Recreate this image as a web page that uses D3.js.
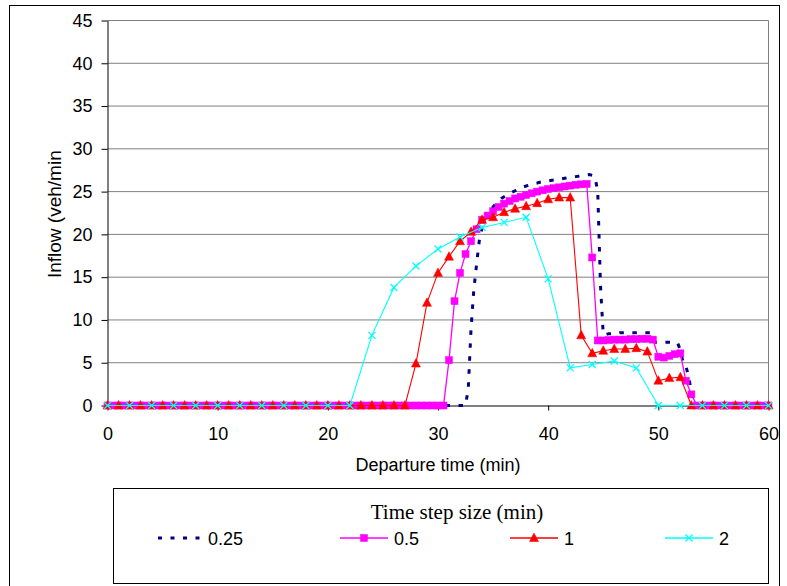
<!DOCTYPE html>
<html><head><meta charset="utf-8">
<script src="https://cdn.jsdelivr.net/npm/d3@7"></script>
<style>body{margin:0;background:#fff}svg{display:block}</style>
</head><body><svg id="c" width="787" height="586"></svg>
<script>
// ---- data ----
const xTicks = [0, 10, 20, 30, 40, 50, 60];
const yTicks = [0, 5, 10, 15, 20, 25, 30, 35, 40, 45];
const seriesNames = ["0.25", "0.5", "1", "2"];
const stepSizes = [0.25, 0.5, 1, 2];
// 0.25-min step (t = 0, 0.25, ..., 60)
const inflow025 = [
 0,0,0,0,0,0,0,0,0,0, 0,0,0,0,0,0,0,0,0,0, 0,0,0,0,0,0,0,0,0,0,
 0,0,0,0,0,0,0,0,0,0, 0,0,0,0,0,0,0,0,0,0, 0,0,0,0,0,0,0,0,0,0,
 0,0,0,0,0,0,0,0,0,0, 0,0,0,0,0,0,0,0,0,0, 0,0,0,0,0,0,0,0,0,0,
 0,0,0,0,0,0,0,0,0,0, 0,0,0,0,0,0,0,0,0,0, 0,0,0,0,0,0,0,0,0,0,
 0,0,0,0,0,0,0,0,0,0, 0,
 2.0, 9.0, 13.5, 16.5, 19.3, 20.8, 21.7, 22.3, 22.8,
 23.2, 23.6, 23.9, 24.2, 24.4, 24.6, 24.8, 24.95,
 25.1, 25.3, 25.45, 25.55, 25.65, 25.75, 25.85, 25.95,
 26.0, 26.1, 26.15, 26.2, 26.25, 26.3, 26.35, 26.4,
 26.45, 26.5, 26.55, 26.6, 26.65, 26.7, 26.75, 26.8,
 26.85, 26.9, 26.95, 27.0, 26.9, 26.7, 25.0, 14.0,
 8.3, 8.3, 8.4, 8.4, 8.4, 8.4, 8.5, 8.5, 8.5, 8.5, 8.5, 8.5, 8.5, 8.5, 8.5, 8.5,
 8.5, 8.5, 7.6, 7.4, 7.4, 7.4, 7.4, 7.4, 7.4, 7.4, 7.4, 7.3,
 6.5, 5.0, 4.6, 3.4, 1.6, 0, 0, 0,
 0,0,0,0,0,0,0,0,0,0,0,0,0,0,0,0,0,0,0,0,0,0,0,0,0
];
// 0.5-min step (t = 0, 0.5, ..., 60)
const inflow05 = [
 0,0,0,0,0,0,0,0,0,0, 0,0,0,0,0,0,0,0,0,0, 0,0,0,0,0,0,0,0,0,0,
 0,0,0,0,0,0,0,0,0,0, 0,0,0,0,0,0,0,0,0,0, 0,0,0,0,0,0,0,0,0,0, 0,0,
 5.3, 12.2, 15.5, 17.7, 19.2, 20.6, 21.7, 22.2, 22.7, 23.2,
 23.6, 23.9, 24.2, 24.4, 24.6, 24.8, 25.0, 25.15, 25.3, 25.4,
 25.5, 25.6, 25.7, 25.8, 25.85, 25.9, 17.3, 7.6, 7.6, 7.65,
 7.7, 7.7, 7.7, 7.75, 7.75, 7.8, 7.8, 7.7, 5.7, 5.6,
 5.8, 6.0, 6.1, 2.9, 1.3,
 0,0,0,0,0,0,0,0,0,0,0,0,0,0
];
// 1-min step (t = 0, 1, ..., 60)
const inflow1 = [
 0,0,0,0,0,0,0,0,0,0, 0,0,0,0,0,0,0,0,0,0, 0,0,0,0,0,0,0,0,
 4.9, 12.0, 15.5, 17.4, 19.2, 20.3, 21.7, 22.0, 22.6, 23.0,
 23.3, 23.65, 24.1, 24.3, 24.3, 8.2, 6.1, 6.4, 6.6, 6.6,
 6.7, 6.3, 2.9, 3.2, 3.3,
 0,0,0,0,0,0,0,0
];
// 2-min step (t = 0, 2, ..., 60)
const inflow2 = [
 0,0,0,0,0,0,0,0,0,0,0,0,
 8.2, 13.8, 16.3, 18.3, 19.7, 20.8, 21.4, 22.0, 14.8, 4.4,
 4.8, 5.2, 4.4, 0,
 0,0,0,0,0
];
const allValues = [inflow025, inflow05, inflow1, inflow2];

// ---- chart ----
const svg = d3.select("#c");
const FONT = "Liberation Sans, Arial, sans-serif";
const x = d3.scaleLinear().domain([0, 60]).range([107.5, 768.5]);
const y = d3.scaleLinear().domain([0, 45]).range([405.5, 20.5]);

svg.append("rect").attr("width", 787).attr("height", 586).attr("fill", "#fff");
// outer frame
svg.append("rect").attr("x", 9.5).attr("y", 5.5).attr("width", 770).attr("height", 700)
  .attr("fill", "none").attr("stroke", "#000").attr("stroke-width", 1);

// gridlines
svg.append("g").selectAll("line").data(yTicks.filter(d => d > 0)).join("line")
  .attr("x1", x(0)).attr("x2", x(60)).attr("y1", d => y(d)).attr("y2", d => y(d))
  .attr("stroke", "#808080").attr("stroke-width", 1);
svg.append("line").attr("x1", x(60)).attr("x2", x(60)).attr("y1", y(45)).attr("y2", y(0))
  .attr("stroke", "#808080");

// axes
const yAxis = svg.append("g").attr("transform", `translate(${x(0)},0)`)
  .call(d3.axisLeft(y).tickValues(yTicks).tickSize(6).tickPadding(9).tickSizeOuter(0));
const xAxis = svg.append("g").attr("transform", `translate(0,${y(0)})`)
  .call(d3.axisBottom(x).tickValues(xTicks).tickSize(5).tickPadding(17).tickSizeOuter(0));
[yAxis, xAxis].forEach(a => {
  a.select(".domain").attr("stroke", "#000");
  a.selectAll(".tick line").attr("stroke", "#000");
  a.selectAll("text").attr("font-family", FONT).attr("font-size", 18).attr("fill", "#000");
});

// axis titles
svg.append("text").attr("x", x(30)).attr("y", 471).attr("text-anchor", "middle")
  .attr("font-family", FONT).attr("font-size", 18).text("Departure time (min)");
svg.append("clipPath").attr("id", "yclip").append("rect")
  .attr("x", 0).attr("y", 150).attr("width", 100).attr("height", 300);
svg.append("g").attr("clip-path", "url(#yclip)").append("text")
  .attr("transform", `translate(61,211) rotate(-90)`)
  .attr("text-anchor", "middle").attr("font-family", FONT).attr("font-size", 19)
  .text("Inflow (veh/min)");

// series
const colors = ["#000080", "#FF00FF", "#FF0000", "#00FFFF"];
const line = d3.line().x(d => x(d[0])).y(d => y(d[1]));
const pts = allValues.map((vals, k) => vals.map((v, i) => [i * stepSizes[k], v]));

function marker(g, k, cx, cy) {
  if (k === 1) {
    g.append("rect").attr("x", cx - 3.5).attr("y", cy - 3.5).attr("width", 7).attr("height", 7)
      .attr("fill", colors[1]).attr("stroke", colors[1]).attr("stroke-width", 0.5);
  } else if (k === 2) {
    g.append("path").attr("d", `M${cx},${cy - 5}L${cx + 4.5},${cy + 3.5}L${cx - 4.5},${cy + 3.5}Z`)
      .attr("fill", colors[2]).attr("stroke", colors[2]).attr("stroke-width", 0.5);
  } else if (k === 3) {
    g.append("path").attr("d", `M${cx - 3.5},${cy - 3.5}L${cx + 3.5},${cy + 3.5}M${cx - 3.5},${cy + 3.5}L${cx + 3.5},${cy - 3.5}`)
      .attr("stroke", colors[3]).attr("stroke-width", 1.3).attr("fill", "none");
  }
}

pts.forEach((p, k) => {
  const g = svg.append("g");
  const path = g.append("path").attr("d", line(p)).attr("fill", "none").attr("stroke", colors[k]);
  if (k === 0) path.attr("stroke-width", 3).attr("stroke-dasharray", "4.5,8.5");
  else path.attr("stroke-width", k === 1 ? 1.3 : 1.1);
  if (k > 0) p.forEach(d => marker(g, k, x(d[0]), y(d[1])));
});

// legend
svg.append("rect").attr("x", 113.5).attr("y", 488.5).attr("width", 655).attr("height", 95)
  .attr("fill", "#fff").attr("stroke", "#000");
svg.append("text").attr("x", 457).attr("y", 519).attr("text-anchor", "middle")
  .attr("font-family", "Liberation Serif, Times New Roman, serif").attr("font-size", 21)
  .text("Time step size (min)");
const legX = [158, 340, 510, 665];
const legY = 538;
seriesNames.forEach((name, k) => {
  const g = svg.append("g");
  const x0 = legX[k], x1 = legX[k] + 48;
  const l = g.append("line").attr("x1", x0).attr("x2", x1).attr("y1", legY).attr("y2", legY)
    .attr("stroke", colors[k]);
  if (k === 0) l.attr("stroke-width", 3).attr("stroke-dasharray", "4,8.5");
  else l.attr("stroke-width", 1.3);
  if (k > 0) marker(g, k, (x0 + x1) / 2, legY);
  g.append("text").attr("x", x1 + (k === 0 ? 2 : 6)).attr("y", legY + 6.5).attr("font-family", FONT)
    .attr("font-size", 18).text(name);
});
</script></body></html>
